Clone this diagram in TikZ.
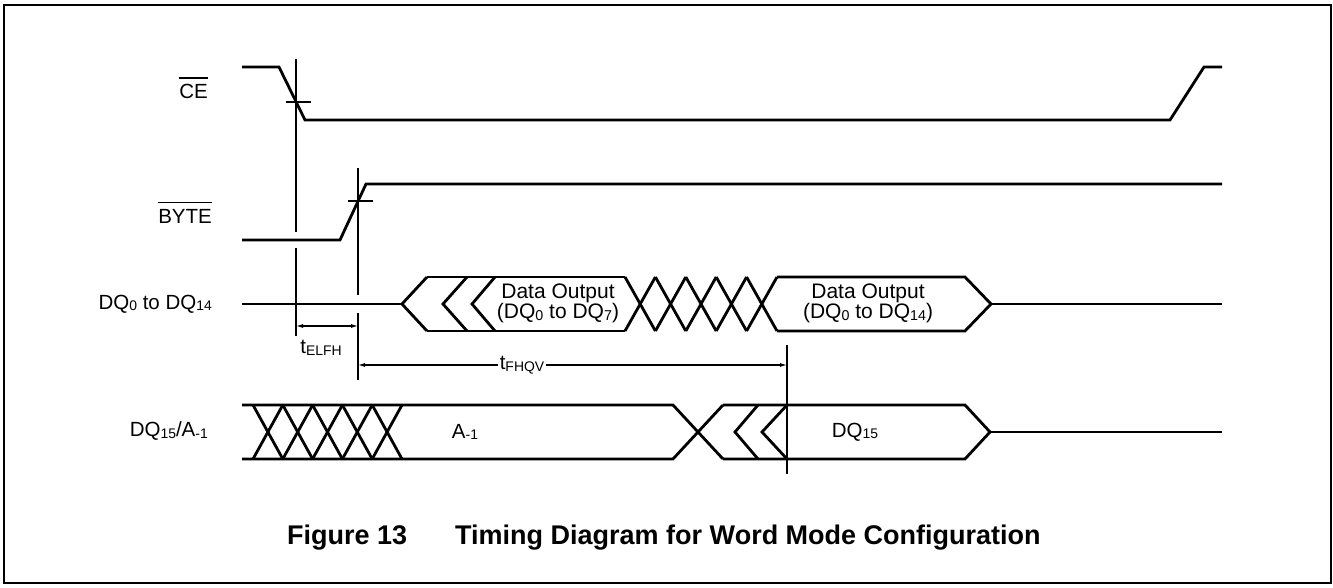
\documentclass[tikz,border=0pt]{standalone}
\usepackage{fontspec}
\setmainfont{Liberation Sans}
\usetikzlibrary{arrows.meta}
\newcommand\lo[1]{\raisebox{-0.15ex}{\scalebox{0.68}{#1}}}
\tikzset{
  sig/.style={line width=2.8pt, line join=miter, line cap=butt},
  guide/.style={line width=1.5pt},
  ovl/.style={line width=1.3pt},
  dim/.style={line width=1.1pt, {Latex[length=7pt,width=4pt]}-{Latex[length=7pt,width=4pt]}},
  lbl/.style={font=\fontsize{20.5}{22}\selectfont, inner sep=0pt},
  txt/.style={font=\fontsize{21}{20.5}\selectfont, align=center, inner sep=0pt},
  captxt/.style={font=\fontsize{27}{30}\selectfont\bfseries, inner sep=0pt, anchor=west}
}
\begin{document}
\begin{tikzpicture}[x=1pt,y=-1pt]
\useasboundingbox (0,0) rectangle (1333,588);
\draw[line width=1.3pt] (4,5) rectangle (1331,583);

% labels
\node[lbl, anchor=east] (lce) at (208,91.5) {CE};
\draw[ovl] ([yshift=6pt]lce.north west) -- ([yshift=6pt]lce.north east);
\node[lbl, anchor=east] (lbyte) at (212,216.5) {BYTE};
\draw[ovl] ([yshift=7pt]lbyte.north west) -- ([yshift=7pt]lbyte.north east);
\node[lbl, anchor=east] (ldq) at (212,304) {DQ\lo{0} to DQ\lo{14}};
\node[lbl, anchor=east] (ldqa) at (208,431) {DQ\lo{15}/A\lo{-1}};

% CE
\draw[sig] (242,67) -- (279,67) -- (305,120) -- (1170,120) -- (1204,67) -- (1222,67);
% BYTE
\draw[sig] (242,240) -- (340,240) -- (366,184) -- (1222,184);

% guide lines
\coordinate (g1t) at (296,59); \coordinate (g1a) at (296,232);
\coordinate (g1b) at (296,248); \coordinate (g1e) at (296,336);
\draw[guide] (g1t) -- (g1a); \draw[guide] (g1b) -- (g1e);
\coordinate (k1a) at (286,102); \coordinate (k1b) at (311,102);
\draw[guide] (k1a) -- (k1b);
\coordinate (g2t) at (358,168); \coordinate (g2a) at (358,295);
\coordinate (g2b) at (358,313); \coordinate (g2e) at (358,380);
\draw[guide] (g2t) -- (g2a); \draw[guide] (g2b) -- (g2e);
\coordinate (k2a) at (348,201); \coordinate (k2b) at (373,201);
\draw[guide] (k2a) -- (k2b);
\coordinate (g3t) at (787,345); \coordinate (g3e) at (787,474);
\draw[guide] (g3t) -- (g3e);

% dimensions
\coordinate (d1a) at (296,326); \coordinate (d1b) at (358,326);
\draw[dim] (d1a) -- (d1b);
\node[lbl] (telfh) at (321,348) {t\lo{ELFH}};
\coordinate (d2a) at (358,365); \coordinate (d2b) at (787,365);
\draw[dim] (d2a) -- (d2b);
\node[lbl, fill=white, inner xsep=2pt, inner ysep=1pt] (tfhqv) at (522,365) {t\lo{FHQV}};

% DQ0 to DQ14 bus
\draw[sig] (242,304) -- (402,304);
\draw[sig] (427,277) -- (402,304) -- (427,331);
\draw[sig] (427,277) -- (625,277);
\draw[sig] (427,331) -- (625,331);
\draw[sig] (467,277) -- (443,304) -- (467,331);
\draw[sig] (495,277) -- (472,304) -- (495,331);
\foreach \i in {0,...,4}{
  \pgfmathsetmacro\xa{625+30.4*\i}
  \pgfmathsetmacro\xb{625+30.4*(\i+1)}
  \draw[sig] (\xa,277) -- (\xb,331);
  \draw[sig] (\xa,331) -- (\xb,277);
}
\draw[sig] (777,277) -- (965,277) -- (991,304) -- (965,331) -- (777,331);
\draw[sig] (991,304) -- (1222,304);
\node[txt] (do1) at (558,303.5) {Data Output\\(DQ\lo{0} to DQ\lo{7})};
\node[txt] (do2) at (868,303.5) {Data Output\\(DQ\lo{0} to DQ\lo{14})};

% DQ15/A-1 bus
\draw[sig] (242,405) -- (673,405) -- (723,459);
\draw[sig] (242,459) -- (673,459) -- (723,405);
\foreach \i in {0,...,4}{
  \pgfmathsetmacro\xa{253+29.8*\i}
  \pgfmathsetmacro\xb{253+29.8*(\i+1)}
  \draw[sig] (\xa,405) -- (\xb,459);
  \draw[sig] (\xa,459) -- (\xb,405);
}
\draw[sig] (723,405) -- (965,405) -- (990,432) -- (965,459) -- (723,459);
\draw[sig] (758,405) -- (735,432) -- (758,459);
\draw[sig] (787,405) -- (762,432) -- (787,459);
\draw[sig] (990,432) -- (1222,432);
\node[lbl] (am1) at (465,432) {A\lo{-1}};
\node[lbl] (dq15) at (855,432) {DQ\lo{15}};

% caption
\node[captxt] (fig) at (287,538) {Figure 13};
\node[captxt] (title) at (455,538) {Timing Diagram for Word Mode Configuration};
\end{tikzpicture}
\end{document}
